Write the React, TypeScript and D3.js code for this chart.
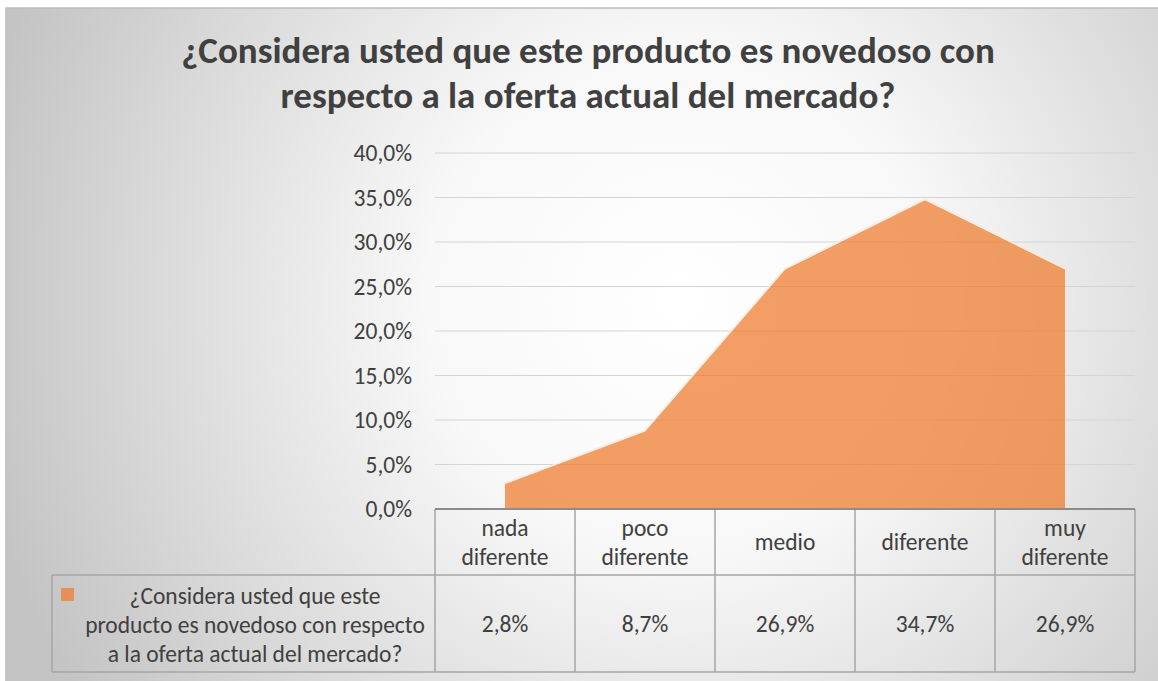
import * as d3 from "d3";
import React from "react";

const categories = [
  ["nada", "diferente"],
  ["poco", "diferente"],
  ["medio"],
  ["diferente"],
  ["muy", "diferente"],
];
const values = [2.8, 8.7, 26.9, 34.7, 26.9];
const valueLabels = ["2,8%", "8,7%", "26,9%", "34,7%", "26,9%"];
const yTicks = [0, 5, 10, 15, 20, 25, 30, 35, 40];
const titleLines = [
  "¿Considera usted que este producto es novedoso con",
  "respecto a la oferta actual del mercado?",
];
const seriesLines = [
  "¿Considera usted que este",
  "producto es novedoso con respecto",
  "a la oferta actual del mercado?",
];

const W = 1158;
const H = 681;
const plot = { left: 435, right: 1135, top: 153, bottom: 509 };
const tableLeft = 52;
const headerBottom = 575;
const tableBottom = 672;
const font = "Carlito, Lato, 'Open Sans', sans-serif";
const orange = "#ED7D31";
const fs = 23.5;

export default function App() {
  const x = d3
    .scaleBand<number>()
    .domain(d3.range(categories.length))
    .range([plot.left, plot.right]);
  const cx = (i: number) => (x(i) as number) + x.bandwidth() / 2;
  const y = d3.scaleLinear().domain([0, 40]).range([plot.bottom, plot.top]);

  const area = d3
    .area<number>()
    .x((_, i) => cx(i))
    .y0(y(0))
    .y1((d) => y(d));
  const topLine = d3
    .line<number>()
    .x((_, i) => cx(i))
    .y((d) => y(d) - 1);

  const cols = d3.range(categories.length + 1).map((i) =>
    i < categories.length ? (x(i) as number) : plot.right
  );

  return (
    <svg
      width={W}
      height={H}
      style={{ position: "absolute", left: 0, top: 0, background: "#fff" }}
    >
      <defs>
        <radialGradient
          id="bg"
          gradientUnits="userSpaceOnUse"
          cx={680}
          cy={300}
          r={720}
        >
          <stop offset="0" stopColor="#ffffff" />
          <stop offset="0.35" stopColor="#f8f8f8" />
          <stop offset="1" stopColor="#c4c4c4" />
        </radialGradient>
      </defs>
      <rect
        x={6}
        y={8}
        width={W + 10}
        height={H + 10}
        fill="url(#bg)"
        stroke="#bdbdbd"
        strokeWidth={1.5}
      />

      {titleLines.map((t, i) => (
        <text
          key={i}
          x={588}
          y={63 + i * 45}
          textAnchor="middle"
          fontFamily={font}
          fontWeight="bold"
          fontSize={37}
          fill="#404040"
        >
          {t}
        </text>
      ))}

      {yTicks.map((t) => (
        <g key={t}>
          {t > 0 && (
            <line
              x1={plot.left}
              x2={plot.right}
              y1={y(t)}
              y2={y(t)}
              stroke="#d4d4d4"
              strokeWidth={1.2}
            />
          )}
          <text
            x={412}
            y={y(t)}
            dy="0.36em"
            textAnchor="end"
            fontFamily={font}
            fontSize={fs}
            fill="#404040"
          >
            {t.toFixed(1).replace(".", ",") + "%"}
          </text>
        </g>
      ))}

      <path d={area(values) || ""} fill={orange} fillOpacity={0.75} />
      <path
        d={topLine(values) || ""}
        fill="none"
        stroke="#fde9da"
        strokeWidth={1.5}
        opacity={0.9}
      />

      {/* data table */}
      <g stroke="#a6a6a6" strokeWidth={1.5} fill="none">
        <line x1={tableLeft} x2={plot.right} y1={headerBottom} y2={headerBottom} />
        <line x1={tableLeft} x2={plot.right} y1={tableBottom} y2={tableBottom} />
        <line x1={tableLeft} x2={tableLeft} y1={headerBottom} y2={tableBottom} />
        {cols.map((c, i) => (
          <line key={i} x1={c} x2={c} y1={plot.bottom} y2={tableBottom} />
        ))}
      </g>
      <line
        x1={plot.left}
        x2={plot.right}
        y1={plot.bottom}
        y2={plot.bottom}
        stroke="#8c8c8c"
        strokeWidth={2}
      />

      {categories.map((lines, i) => (
        <text
          key={i}
          x={cx(i)}
          textAnchor="middle"
          fontFamily={font}
          fontSize={fs}
          fill="#404040"
        >
          {lines.map((l, j) => (
            <tspan
              key={j}
              x={cx(i)}
              y={542 + (j - (lines.length - 1) / 2) * 29}
              dy="0.36em"
            >
              {l}
            </tspan>
          ))}
        </text>
      ))}

      {valueLabels.map((v, i) => (
        <text
          key={i}
          x={cx(i)}
          y={624}
          dy="0.36em"
          textAnchor="middle"
          fontFamily={font}
          fontSize={fs}
          fill="#404040"
        >
          {v}
        </text>
      ))}

      <rect x={61} y={588} width={13} height={13} fill={orange} fillOpacity={0.75} />
      {seriesLines.map((l, j) => (
        <text
          key={j}
          x={255}
          y={596 + j * 29}
          dy="0.36em"
          textAnchor="middle"
          fontFamily={font}
          fontSize={fs}
          fill="#404040"
        >
          {l}
        </text>
      ))}
    </svg>
  );
}
